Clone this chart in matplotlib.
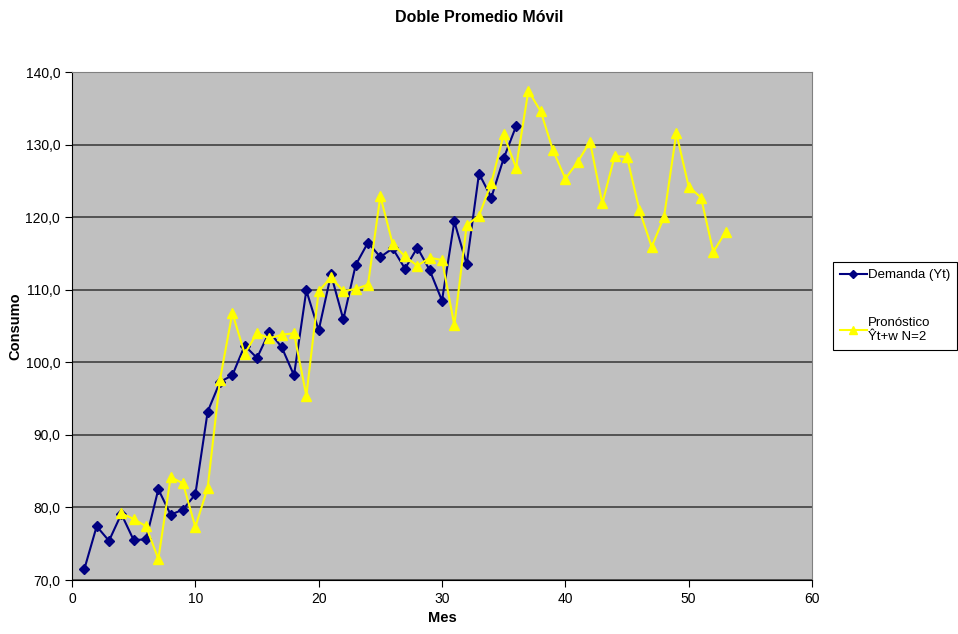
import matplotlib
matplotlib.use("Agg")
import matplotlib.pyplot as plt
from matplotlib.ticker import FuncFormatter, MultipleLocator

plt.rcParams['font.family'] = ['Liberation Sans', 'DejaVu Sans']

# Monthly demand (Yt)
meses_demanda = list(range(1, 37))
demanda = [71.5, 77.4, 75.4, 79.1, 75.5, 75.6, 82.5, 79.0, 79.7, 81.8,
           93.2, 97.3, 98.2, 102.3, 100.6, 104.2, 102.1, 98.2, 109.9, 104.4,
           112.1, 105.9, 113.4, 116.5, 114.5, 115.7, 112.9, 115.8, 112.7, 108.5,
           119.4, 113.5, 126.0, 122.7, 128.1, 132.5]

# Double moving average forecast, N=2
meses_pronostico = list(range(4, 54))
pronostico = [79.2, 78.4, 77.4, 72.9, 84.2, 83.3, 77.3, 82.7, 97.6, 106.8,
              101.2, 104.0, 103.3, 103.8, 104.0, 95.4, 109.8, 111.7, 109.8, 110.1,
              110.7, 122.9, 116.3, 114.6, 113.3, 114.4, 114.1, 105.1, 118.9, 120.2,
              124.7, 131.4, 126.8, 137.4, 134.6, 129.2, 125.3, 127.6, 130.4, 121.9,
              128.4, 128.3, 121.0, 115.9, 120.0, 131.6, 124.2, 122.7, 115.2, 118.0]

fig = plt.figure(figsize=(9.58, 6.34), dpi=100)
ax = fig.add_axes([72 / 958, 1 - 580 / 634, 740 / 958, 508 / 634])
ax.set_facecolor('#C0C0C0')

ax.plot(meses_demanda, demanda, color='#000080', marker='D', markersize=5,
        linewidth=1.5, label='Demanda (Yt)', zorder=3)
ax.plot(meses_pronostico, pronostico, color='#FFFF00', marker='^', markersize=7,
        linewidth=1.5, label='Pronóstico\nŶt+w N=2', zorder=3)

ax.set_xlim(0, 60)
ax.set_ylim(70, 140)
ax.xaxis.set_major_locator(MultipleLocator(10))
ax.yaxis.set_major_locator(MultipleLocator(10))
ax.yaxis.set_major_formatter(FuncFormatter(lambda v, p: f"{v:.1f}".replace('.', ',')))
ax.grid(axis='y', color='#404040', linewidth=1.2, zorder=1)
ax.set_axisbelow(True)

for s in ['top', 'right']:
    ax.spines[s].set_color('#808080')
for s in ['left', 'bottom']:
    ax.spines[s].set_color('black')
ax.tick_params(direction='out', length=5, labelsize=10, colors='black')

ax.set_xlabel('Mes', fontsize=10.5, fontweight='bold', labelpad=4)
ax.set_ylabel('Consumo', fontsize=10.5, fontweight='bold', labelpad=2)
fig.suptitle('Doble Promedio Móvil', x=0.5, y=1 - 17 / 634, va='center',
             fontsize=11.5, fontweight='bold')

leg = fig.legend(loc='upper left', bbox_to_anchor=(833 / 958, 1 - 262 / 634),
                 bbox_transform=fig.transFigure, fontsize=9.5, frameon=True,
                 fancybox=False, edgecolor='black', framealpha=1,
                 labelspacing=2.7, handlelength=2.0, handletextpad=0.1,
                 borderpad=0.55, borderaxespad=0, markerscale=0.8)
leg.get_frame().set_linewidth(0.8)

fig.savefig('out.png', dpi=100)
